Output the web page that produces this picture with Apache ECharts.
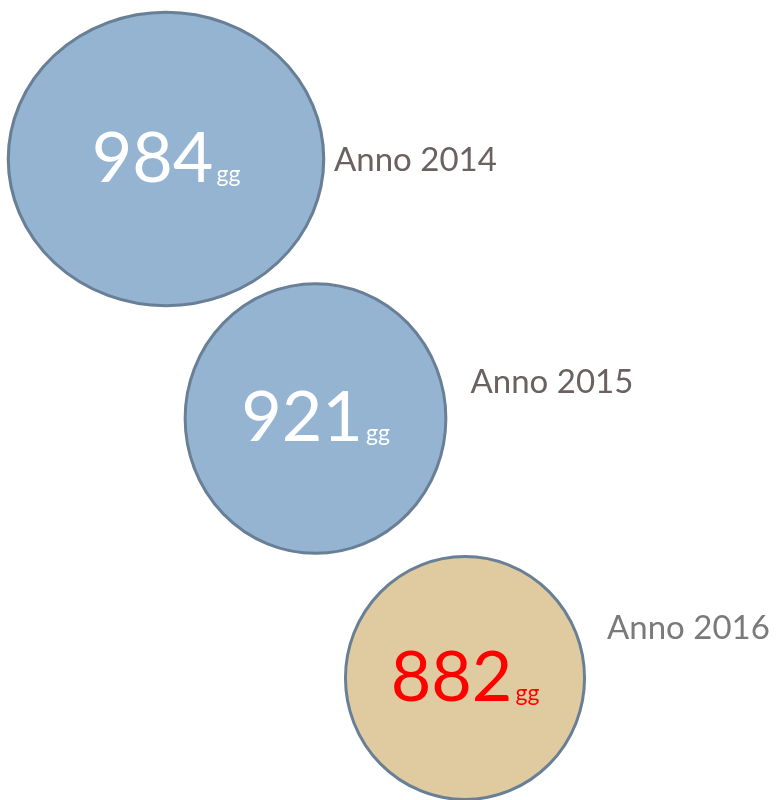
<!DOCTYPE html>
<html>
<head>
<meta charset="utf-8">
<script src="https://cdn.jsdelivr.net/npm/echarts@6/dist/echarts.min.js"></script>
<style>
  html, body { margin: 0; padding: 0; background: #fff; }
  #main { width: 777px; height: 800px; }
</style>
</head>
<body>
<div id="main"></div>
<script>
// dati
var anni = ['2014', '2015', '2016']
var giorni = [984, 921, 882]
var unita = 'gg'

// stili per bolla
var riempimento = ['#94b4d2', '#94b4d2', '#e0ca9f']
var coloreNumero = ['#ffffff', '#ffffff', '#ff0000']
var coloreAnno = ['#6b6160', '#6b6160', '#7a7a7a']
var aspetto = [1.075, 0.967, 0.984]
var posAnno = [[168, 1], [155, -36], [142, -50]]

var chart = echarts.init(document.getElementById('main'))

// diametro in funzione dei giorni
function diametro (v) {
  return 241 + (v - 882) * 0.62
}

var bolle = giorni.map(function (v, i) {
  var d = diametro(v)
  return {
    value: [anni[i], anni[i], v],
    symbolSize: [d * Math.sqrt(aspetto[i]), d / Math.sqrt(aspetto[i])],
    itemStyle: { color: riempimento[i] },
    label: {
      rich: {
        n: { fontSize: 70, color: coloreNumero[i], fontFamily: 'Lato', lineHeight: 66 },
        u: { fontSize: 23, color: coloreNumero[i], fontFamily: 'Lato', verticalAlign: 'bottom', lineHeight: 66, padding: [0, 0, 6, 3] }
      }
    }
  }
})

var etichette = anni.map(function (a, i) {
  return {
    value: [a, a],
    label: {
      position: posAnno[i],
      color: coloreAnno[i]
    }
  }
})

chart.setOption({
  animation: false,
  grid: { left: 166, right: 312, top: 159, bottom: 122 },
  xAxis: { type: 'category', data: anni, boundaryGap: false, show: false },
  yAxis: { type: 'category', data: anni, boundaryGap: false, inverse: true, show: false },
  series: [
    {
      type: 'scatter',
      symbol: 'circle',
      data: bolle,
      itemStyle: { borderColor: '#687f96', borderWidth: 3, opacity: 1 },
      label: {
        show: true,
        position: 'inside',
        formatter: function (p) {
          return '{n|' + p.value[2] + '}{u|' + unita + '}'
        }
      },
      emphasis: { disabled: true }
    },
    {
      type: 'scatter',
      symbolSize: 0,
      data: etichette,
      itemStyle: { opacity: 1 },
      label: {
        show: true,
        align: 'left',
        verticalAlign: 'middle',
        fontSize: 33,
        fontFamily: 'Lato',
        formatter: function (p) {
          return 'Anno ' + p.value[0]
        }
      },
      emphasis: { disabled: true }
    }
  ]
})
</script>
</body>
</html>
